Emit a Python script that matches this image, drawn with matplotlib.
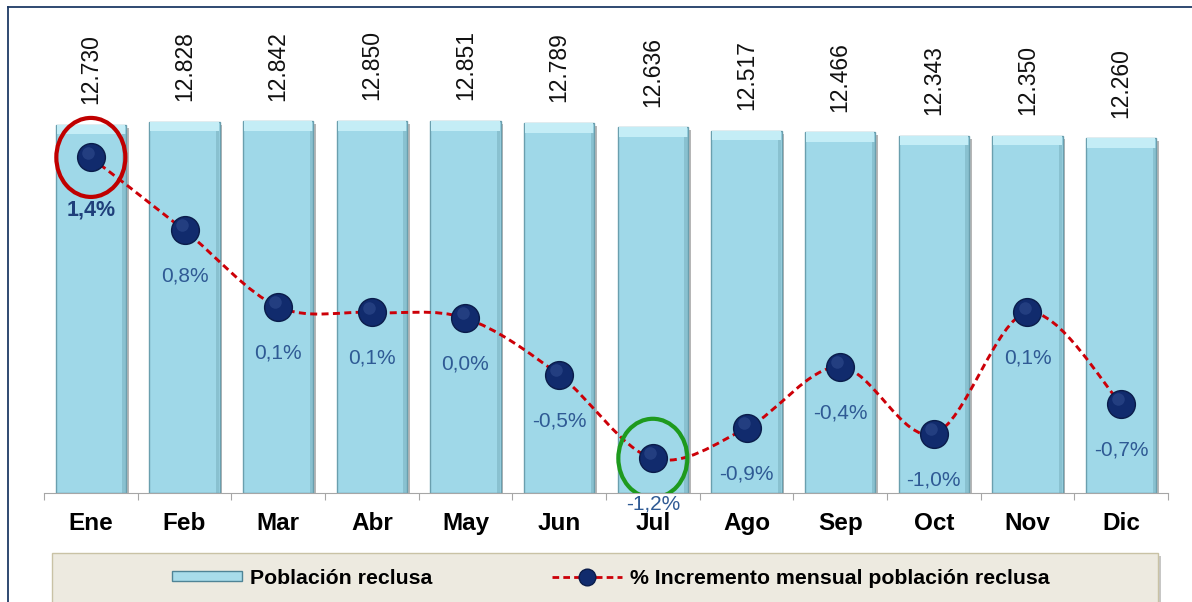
import numpy as np
from matplotlib import pyplot as plt
from matplotlib import patheffects
from matplotlib.lines import Line2D
from matplotlib.patches import Ellipse, Patch, PathPatch, Rectangle
from matplotlib.path import Path
from matplotlib.transforms import ScaledTranslation, offset_copy

plt.rcParams['font.family'] = ['Liberation Sans', 'DejaVu Sans']

MONTHS = ['Ene', 'Feb', 'Mar', 'Abr', 'May', 'Jun', 'Jul', 'Ago', 'Sep', 'Oct', 'Nov', 'Dic']
POPULATION = [12730, 12828, 12842, 12850, 12851, 12789, 12636, 12517, 12466, 12343, 12350, 12260]
MONTHLY_CHANGE = [1.4, 0.77, 0.11, 0.06, 0.01, -0.48, -1.2, -0.94, -0.41, -0.99, 0.06, -0.73]

BAR_LABEL = 'Población reclusa'
LINE_LABEL = '% Incremento mensual población reclusa'

W, H = 1192, 602
RED_DASH = (0, (2.4, 1.5))
BAR_WIDTH = 0.75


def smooth_path(xs, ys):
    """Excel-like smoothed line: Catmull-Rom turned into cubic Bezier segments."""
    pts = np.column_stack([xs, ys]).astype(float)
    n = len(pts)
    verts, codes = [pts[0]], [Path.MOVETO]
    for i in range(n - 1):
        p0, p1, p2, p3 = pts[max(i - 1, 0)], pts[i], pts[i + 1], pts[min(i + 2, n - 1)]
        verts += [p1 + (p2 - p0) / 6, p2 - (p3 - p1) / 6, p2]
        codes += [Path.CURVE4] * 3
    return Path(verts, codes)


def es_number(value):
    return f'{value:,}'.replace(',', '.')


def es_percent(value):
    return f'{value:.1f}%'.replace('.', ',').replace('-0,0', '0,0')


fig = plt.figure(figsize=(W / 100, H / 100), dpi=100)
ax = fig.add_axes([44 / W, 109 / H, (1168 - 44) / W, (493 - 7) / H])
x = np.arange(len(MONTHS))

# bars with a light bevel on top, a darker right rim and a soft shadow
bar_shadow = [patheffects.SimplePatchShadow(offset=(2, -2), shadow_rgbFace='#6f6f6f', alpha=0.5),
              patheffects.Normal()]
bars = ax.bar(x, POPULATION, width=BAR_WIDTH, color='#9FD8E8', edgecolor='#6A9FAE', linewidth=1, zorder=2)
for bar in bars:
    bar.set_path_effects(bar_shadow)
bevel = 330
ax.bar(x, bevel, bottom=np.array(POPULATION) - bevel, width=BAR_WIDTH - 0.02, color='#C4EDF6',
       linewidth=0, zorder=3)
ax.bar(x + BAR_WIDTH / 2 - 0.02, np.array(POPULATION) - bevel, width=0.035, color='#6FA5B4',
       alpha=0.45, linewidth=0, zorder=3)

for xi, value in zip(x, POPULATION):
    ax.annotate(es_number(value), (xi, value), xytext=(0, 15), textcoords='offset points',
                rotation=90, ha='center', va='bottom', fontsize=16.5, color='#111111')

ax.set_xlim(-0.5, len(MONTHS) - 0.5)
ax.set_ylim(0, 16800)
ax.set_yticks([])
ax.set_xticks(np.arange(-0.5, len(MONTHS), 1))
ax.set_xticklabels([])
ax.set_xticks(x, minor=True)
ax.set_xticklabels(MONTHS, minor=True, fontsize=17.5, fontweight='bold')
ax.tick_params(axis='x', which='major', length=5, color='#A6A6A6')
ax.tick_params(axis='x', which='minor', length=0, pad=14)
for side in ('top', 'right', 'left'):
    ax.spines[side].set_visible(False)
ax.spines['bottom'].set_color('#A6A6A6')

# monthly change on a secondary axis
ax2 = ax.twinx()
ax2.set_ylim(-1.5, 2.7)
ax2.set_yticks([])
for side in ax2.spines:
    ax2.spines[side].set_visible(False)

ax2.add_patch(PathPatch(smooth_path(x, MONTHLY_CHANGE), fill=False, edgecolor='#CC0008',
                        linewidth=2.1, linestyle=RED_DASH, zorder=4))
ax2.plot(x, MONTHLY_CHANGE, linestyle='none', marker='o', markersize=20,
         markerfacecolor='#112B6D', markeredgecolor='#0A1C4A', markeredgewidth=1, zorder=5)
ax2.plot(x, MONTHLY_CHANGE, linestyle='none', marker='o', markersize=9, markerfacecolor='#3F5C9F',
         markeredgewidth=0, alpha=0.4, zorder=6,
         transform=offset_copy(ax2.transData, fig=fig, x=-2, y=3.5, units='points'))

top, bottom = int(np.argmax(MONTHLY_CHANGE)), int(np.argmin(MONTHLY_CHANGE))
for i, value in enumerate(MONTHLY_CHANGE):
    bold = i == top
    ax2.annotate(es_percent(value), (i, value), xytext=(0, -38 if bold else -33), textcoords='offset points',
                 ha='center', va='center', fontsize=15.5 if bold else 15,
                 fontweight='bold' if bold else 'normal', color='#1F3F7A' if bold else '#2F5A94', zorder=6)

for i, colour in ((top, '#C00000'), (bottom, '#1E9A1E')):
    ring = ScaledTranslation(i, MONTHLY_CHANGE[i], ax2.transData)
    ax2.add_patch(Ellipse((0, 0), 0.69, 0.79, transform=fig.dpi_scale_trans + ring,
                          fill=False, edgecolor=colour, linewidth=3, zorder=7))

# frame of the chart area
fig.add_artist(Line2D([8 / W, 8 / W], [0, 595 / H], color='#1F3B66', linewidth=1.3))
fig.add_artist(Line2D([8 / W, 1], [595 / H, 595 / H], color='#1F3B66', linewidth=1.3))

# legend panel
panel = Rectangle((52 / W, -0.05), (1158 - 52) / W, 49 / H + 0.05, transform=fig.transFigure,
                  facecolor='#EDEAE0', edgecolor='#C9C2A5', linewidth=1)
panel.set_path_effects([patheffects.SimplePatchShadow(offset=(2, -2), alpha=0.3), patheffects.Normal()])
fig.add_artist(panel)

handles = [Patch(facecolor='#A8DCEA', edgecolor='#4F8496', linewidth=1),
           Line2D([], [], color='#CC0008', linewidth=2, linestyle=RED_DASH, marker='o',
                  markersize=12, markerfacecolor='#112B6D', markeredgecolor='#0A1C4A')]
fig.legend(handles, [BAR_LABEL, LINE_LABEL], loc='center', bbox_to_anchor=(611 / W, 24 / H), ncol=2,
           frameon=False, prop={'size': 15.3, 'weight': 'bold'}, handlelength=3.3, handleheight=0.35,
           columnspacing=5.6, handletextpad=0.4, numpoints=1)

fig.savefig('out.png', dpi=100)
